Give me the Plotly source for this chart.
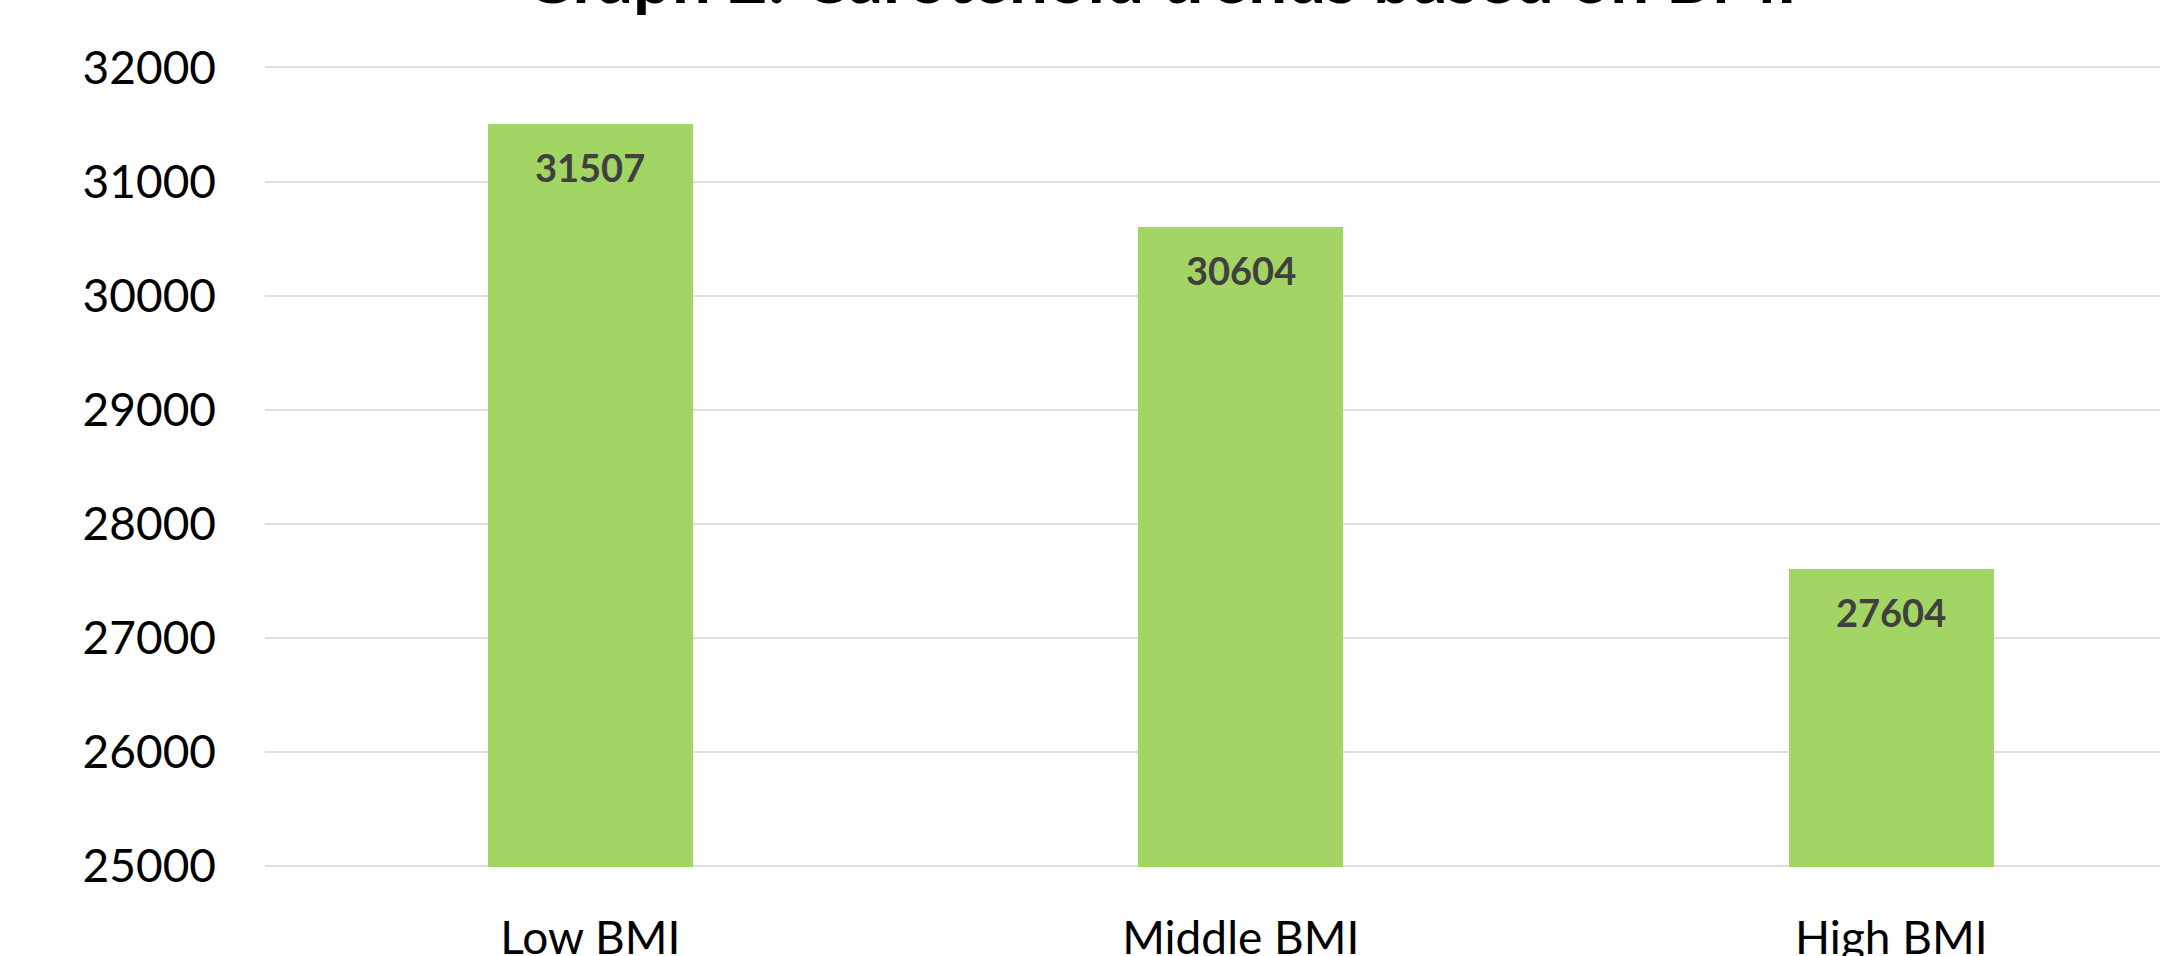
import plotly.graph_objects as go

categories = ["Low BMI", "Middle BMI", "High BMI"]
values = [31507, 30604, 27604]
title_text = "Graph 2: Carotenoid trends based on BMI"
y_ticks = [25000, 26000, 27000, 28000, 29000, 30000, 31000, 32000]

BAR_COLOR = "#A2D563"
FONT = "Lato"

PLOT_L, PLOT_R = 265, 2160
PLOT_T, PLOT_B = 66, 867

fig = go.Figure()
fig.add_trace(go.Bar(
    x=categories, y=values, width=0.315,
    marker=dict(color=BAR_COLOR, line=dict(width=0)),
    hoverinfo="skip",
))

annotations = []
for c, v in zip(categories, values):
    annotations.append(dict(
        x=c, y=v, xref="x", yref="y", text=f"<b>{v}</b>",
        showarrow=False, yanchor="top", yshift=-18,
        font=dict(family=FONT, size=38, color="#404040"),
    ))
annotations.append(dict(
    x=(1160 - PLOT_L) / (PLOT_R - PLOT_L), xref="paper",
    y=(PLOT_B - 20) / (PLOT_B - PLOT_T), yref="paper",
    text=f"<b>{title_text}</b>", showarrow=False, xanchor="center", yanchor="bottom",
    font=dict(family=FONT, size=69, color="#000000"),
))

fig.update_layout(
    width=2160, height=956,
    margin=dict(l=PLOT_L, r=2160 - PLOT_R, t=PLOT_T, b=956 - PLOT_B, pad=0),
    paper_bgcolor="white", plot_bgcolor="white",
    showlegend=False,
    font=dict(family=FONT, color="#000000"),
    annotations=annotations,
    bargap=0,
)
fig.update_xaxes(
    range=[-0.5, 2.413], showgrid=False, zeroline=False, showline=False,
    ticks="", tickfont=dict(family=FONT, size=46, color="#000000"),
    ticklabelstandoff=40, automargin=False,
)
fig.update_yaxes(
    range=[24990, 32013], tickvals=y_ticks, ticktext=[str(t) for t in y_ticks],
    showgrid=True, gridcolor="#DEDEDE", gridwidth=2, zeroline=False, showline=False,
    ticks="", tickfont=dict(family=FONT, size=46, color="#000000"),
    ticklabelstandoff=48, automargin=False,
)

fig.write_html("out.html")
